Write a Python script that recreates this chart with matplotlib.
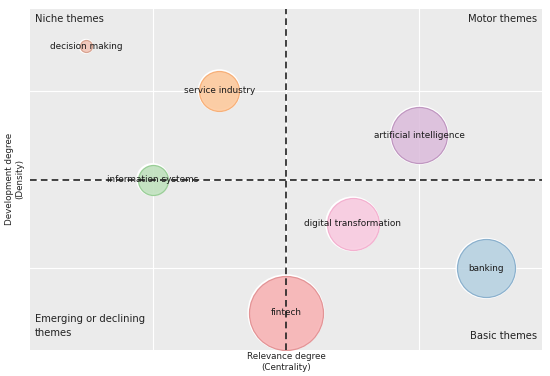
import matplotlib.pyplot as plt

themes = ["decision making", "service industry", "artificial intelligence",
          "information systems", "digital transformation", "banking", "fintech"]
centrality = [-1.5, -0.5, 1.0, -1.0, 0.5, 1.5, 0.0]
density = [1.5, 1.0, 0.5, 0.0, -0.5, -1.0, -1.5]
bubble_radius = [6, 20, 28, 15, 26, 29, 37]  # pixel radius
fills = ["#f3c4b6", "#fec99c", "#dcbddc", "#bfe1bd", "#f9cbe0", "#b6d1e1", "#f8b2b4"]
edges = ["#d49a86", "#f5a86c", "#b98dba", "#8fc98c", "#f2a9cb", "#80a9c8", "#df8a8c"]

fig = plt.figure(figsize=(5.5, 3.76), dpi=100)
ax = fig.add_axes([0.0545, 0.069, 0.931, 0.907])
ax.set_facecolor("#ebebeb")

for sp in ax.spines.values():
    sp.set_visible(False)

ax.set_xlim(-1.92, 1.92)
ax.set_ylim(-1.92, 1.92)
ax.set_xticks([-1, 0, 1])
ax.set_yticks([-1, 0, 1])
ax.tick_params(length=0, labelbottom=False, labelleft=False)
ax.grid(True, color="white", lw=0.8)
ax.set_axisbelow(True)

sizes = [(2 * r * 0.72) ** 2 for r in bubble_radius]
for x, y, s, fc, ec, name in zip(centrality, density, sizes, fills, edges, themes):
    # thin white halo, then the bubble
    ax.scatter(x, y, s=s, facecolor="none", edgecolor="white", lw=2.2, zorder=3)
    ax.scatter(x, y, s=s, facecolor=fc, edgecolor=ec, lw=0.9, alpha=0.88, zorder=3)
    ax.text(x, y, name, ha="center", va="center", fontsize=6.4,
            color="#1a1a1a", zorder=5)

ax.axhline(0, color="#222222", ls=(0, (4, 2.5)), lw=1.2, zorder=4)
ax.axvline(0, color="#222222", ls=(0, (4, 2.5)), lw=1.2, zorder=4)

qfont = dict(fontsize=7.2, color="#222222", transform=ax.transAxes)
ax.text(0.01, 0.97, "Niche themes", ha="left", va="center", **qfont)
ax.text(0.99, 0.97, "Motor themes", ha="right", va="center", **qfont)
ax.text(0.01, 0.07, "Emerging or declining\nthemes", ha="left", va="center",
        linespacing=1.5, **qfont)
ax.text(0.99, 0.04, "Basic themes", ha="right", va="center", **qfont)

fig.text(286 / 550, 1 - 362 / 376, "Relevance degree\n(Centrality)", ha="center",
         va="center", fontsize=6.3, color="#222222")
fig.text(15 / 550, 1 - 179 / 376, "Development degree\n(Density)", ha="center",
         va="center", rotation=90, fontsize=6.3, color="#222222")

fig.savefig("out.png", dpi=100)
